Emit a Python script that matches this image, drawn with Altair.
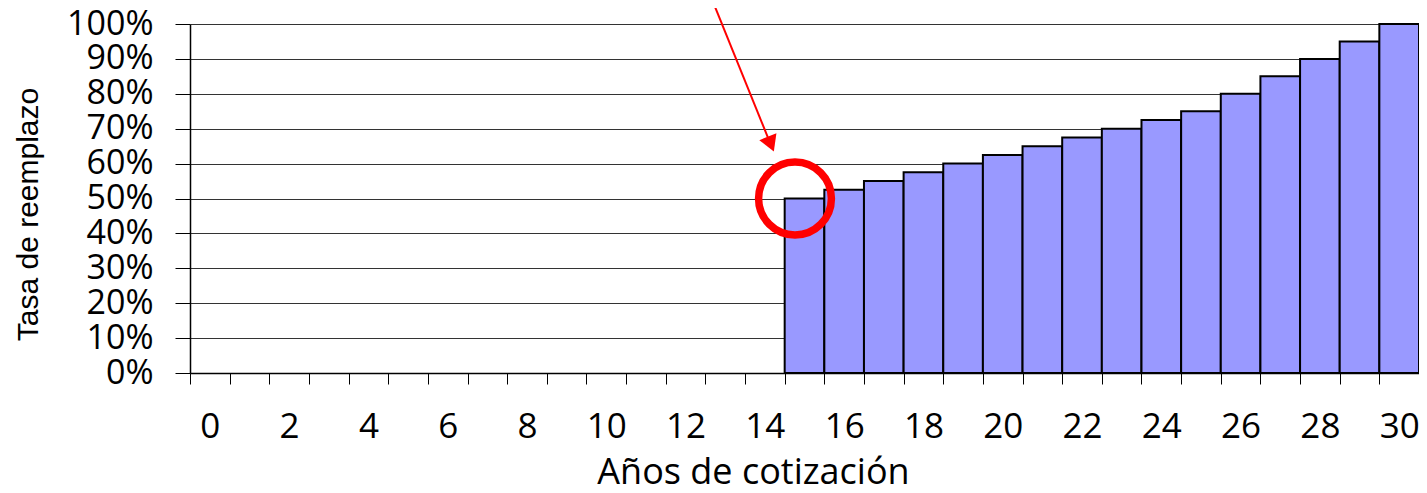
import altair as alt
import pandas as pd

years = list(range(31))
bar_years = list(range(15, 31))
rates = [0.50, 0.525, 0.55, 0.575, 0.60, 0.625, 0.65, 0.675,
         0.70, 0.725, 0.75, 0.80, 0.85, 0.90, 0.95, 1.00]
y_ticks = [0.0, 0.1, 0.2, 0.3, 0.4, 0.5, 0.6, 0.7, 0.8, 0.9, 1.0]

# annotation anchors (data coordinates)
circle_year = [15]
circle_rate = [0.50]
arrow_start_year = [13]
arrow_start_rate = [1.069]
arrow_end_year = [14]
arrow_end_rate = [0.668]
head_year = [14]
head_rate = [0.663]

bars_df = pd.DataFrame({"year": bar_years, "rate": rates})
circle_df = pd.DataFrame({"year": circle_year, "rate": circle_rate})
arrow_df = pd.DataFrame({"year": arrow_start_year, "rate": arrow_start_rate,
                         "year2": arrow_end_year, "rate2": arrow_end_rate})
head_df = pd.DataFrame({"year": head_year, "rate": head_rate})

FONT = "Open Sans"

xscale = alt.Scale(domain=years, paddingInner=0, paddingOuter=0)
yscale = alt.Scale(domain=[0, 1])

xaxis = alt.Axis(
    title="Años de cotización",
    labelAngle=0,
    labelExpr="datum.value % 2 == 0 ? datum.label : ''",
    tickBand="extent",
    tickSize=11,
    tickColor="black",
    domainColor="black",
    domainWidth=1.5,
    labelPadding=25,
    labelFontSize=35,
    labelFont=FONT,
    labelColor="black",
    labelOverlap=False,
    titleFont=FONT,
    titleFontSize=36,
    titleFontWeight="normal",
    titleColor="black",
    titleX=563,
    titleY=110,
    titleAlign="center",
    titleBaseline="alphabetic",
    grid=False,
)

yaxis = alt.Axis(
    title="Tasa de reemplazo",
    format=".0%",
    values=y_ticks,
    tickCount=11,
    tickSize=15,
    tickColor="black",
    domainColor="black",
    domainWidth=1.5,
    labelPadding=22,
    labelFontSize=34,
    labelFont=FONT,
    labelColor="black",
    labelOverlap=False,
    grid=True,
    gridColor="#333333",
    gridWidth=1,
    titleFont="Liberation Sans",
    titleFontSize=30,
    titleFontWeight="normal",
    titleColor="black",
    titleAngle=270,
    titleX=-162,
    titleY=190,
    titleAlign="center",
    titleBaseline="middle",
)

X = alt.X("year:O", scale=xscale, axis=xaxis)
Y = alt.Y("rate:Q", scale=yscale, axis=yaxis)

bars = alt.Chart(bars_df).mark_bar(
    color="#9999FF", stroke="black", strokeWidth=2
).encode(x=X, y=Y)

circle = alt.Chart(circle_df).mark_point(
    shape="circle", filled=False, stroke="#FF0000", strokeWidth=7.5,
    size=5300, xOffset=-9.5, opacity=1
).encode(x=X, y=Y)

arrow = alt.Chart(arrow_df).mark_rule(
    color="#FF0000", strokeWidth=2, xOffset=-13, x2Offset=4
).encode(x=X, x2="year2", y=Y, y2="rate2")

head = alt.Chart(head_df).mark_point(
    shape="triangle", filled=True, color="#FF0000", size=340,
    angle=158, xOffset=5, opacity=1
).encode(x=X, y=Y)

chart = alt.layer(bars, arrow, head, circle).properties(
    width=1229,
    height=349,
    padding={"left": 182, "top": 16, "right": 0, "bottom": 112},
    autosize="none",
).configure_view(strokeWidth=0)

chart.save("out.html", embed_options={"renderer": "svg", "actions": False})
